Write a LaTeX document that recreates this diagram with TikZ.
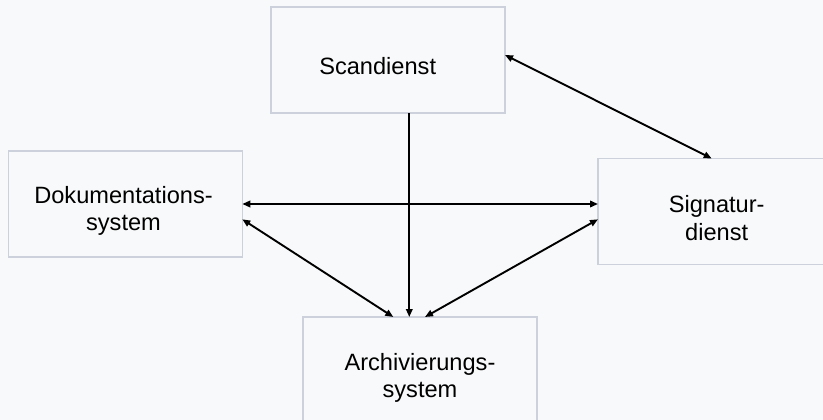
\documentclass[tikz,border=0pt]{standalone}
\usepackage{fontspec}
\setmainfont{Liberation Sans}
\usetikzlibrary{arrows.meta,calc}
\definecolor{bgc}{HTML}{F8F9FA}
\definecolor{boxline}{HTML}{CDD1DB}
\begin{document}
\begin{tikzpicture}[x=1pt,y=-1pt,
  box/.style={draw=boxline,line width=1.6pt,fill=bgc,minimum width=234pt,minimum height=106pt,inner sep=0pt,outer sep=0pt},
  txt/.style={align=center,font=\fontsize{23.6pt}{27.2pt}\selectfont,inner sep=0pt},
  conn/.style={line width=1.9pt,{Triangle[length=8pt,width=6.5pt]}-{Triangle[length=8pt,width=6.5pt]}},
  conn1/.style={line width=1.9pt,-{Triangle[length=8pt,width=6.5pt]}}]
\useasboundingbox (0,0) rectangle (823,420);
\clip (0,0) rectangle (823,420);
\fill[bgc] (0,0) rectangle (823,420);
% boxes
\node[box] (scan) at (388,60.3) {};
\node[box] (dok) at (125.3,203.7) {};
\node[box] (sig) at (715,211.5) {};
\node[box] (arch) at (420.2,370) {};
% texts
\node[txt] (scant) at (377.7,66.5) {Scandienst};
\node[txt] (dokt) at (123.5,211) {Dokumentations-\\system};
\node[txt] (sigt) at (716.7,218) {Signatur-\\dienst};
\node[txt] (archt) at (420,377.5) {Archivierungs-\\system};
% connectors
\draw[conn] ($(scan.east)+(0,-5.3)$) -- ($(sig.north)+(-3.3,0)$);
\draw[conn] ($(dok.east)+(0,0.3)$) -- ($(sig.west)+(0,-7.5)$);
\draw[conn1] ($(scan.south)+(21.3,0)$) -- ($(arch.north)+(-10.9,0)$);
\draw[conn] ($(dok.east)+(0,15.6)$) -- ($(arch.north)+(-26.9,0)$);
\draw[conn] ($(sig.west)+(0,7.8)$) -- ($(arch.north)+(4.8,0)$);
\end{tikzpicture}
\end{document}
